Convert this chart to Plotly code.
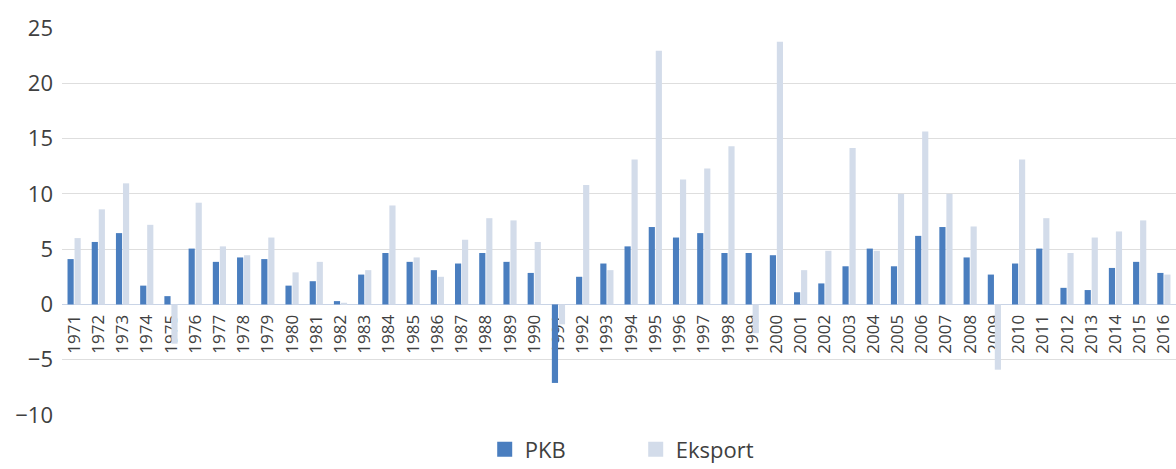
import plotly.graph_objects as go

years = [str(y) for y in range(1971, 2017)]

pkb = [4.1, 5.65, 6.45, 1.7, 0.75, 5.05, 3.85, 4.25, 4.1, 1.7,
       2.1, 0.3, 2.7, 4.65, 3.85, 3.1, 3.7, 4.65, 3.85, 2.85,
       -7.1, 2.5, 3.7, 5.25, 7.0, 6.05, 6.45, 4.65, 4.65, 4.45,
       1.1, 1.9, 3.45, 5.05, 3.45, 6.2, 7.0, 4.25, 2.7, 3.7,
       5.05, 1.5, 1.3, 3.3, 3.85, 2.85]

eksport = [6.0, 8.6, 10.95, 7.2, -3.55, 9.2, 5.25, 4.45, 6.05, 2.9,
           3.85, 0.15, 3.1, 8.95, 4.25, 2.5, 5.85, 7.8, 7.6, 5.65,
           -1.8, 10.8, 3.1, 13.1, 22.95, 11.3, 12.3, 14.3, -2.6, 23.75,
           3.1, 4.85, 14.15, 4.85, 10.0, 15.65, 10.0, 7.05, -5.9, 13.1,
           7.8, 4.65, 6.05, 6.6, 7.6, 2.7]

y_ticks = [-10, -5, 0, 5, 10, 15, 20, 25]
y_min, y_max = -10, 25

font_family = "Open Sans, Noto Sans, sans-serif"
text_color = "#404040"
color_pkb = "#4a7ebf"
color_eks = "#d3dcea"

margin_top, margin_bottom, fig_height = 28, 54, 469
plot_height = fig_height - margin_top - margin_bottom

fig = go.Figure()
fig.add_trace(go.Bar(
    x=years, y=pkb, name="PKB", showlegend=False,
    marker=dict(color=color_pkb, line=dict(width=0)),
))
fig.add_trace(go.Bar(
    x=years, y=eksport, name="Eksport", showlegend=False,
    marker=dict(color=color_eks, line=dict(width=0)),
))

# square legend swatches
for name, color in [("PKB", color_pkb), ("Eksport", color_eks)]:
    fig.add_trace(go.Scatter(
        x=[None], y=[None], mode="markers", name=name,
        marker=dict(symbol="square", size=15, color=color),
    ))

# category labels hang just below the zero line
x_axis_position = (0 - y_min) / (y_max - y_min) - 6 / plot_height

fig.update_layout(
    width=1176, height=fig_height,
    margin=dict(l=62, r=0, t=margin_top, b=margin_bottom, pad=0, autoexpand=False),
    paper_bgcolor="white", plot_bgcolor="white",
    barmode="group", bargap=0.42, bargroupgap=0.12,
    font=dict(family=font_family, color=text_color),
    showlegend=True,
    legend=dict(
        orientation="h", x=0.515, xanchor="center", y=-0.035, yanchor="top",
        font=dict(size=22, color=text_color), itemwidth=30,
        traceorder="normal", entrywidth=106,
    ),
    xaxis=dict(
        type="category", anchor="free",
        position=x_axis_position,
        tickangle=-90, showgrid=False, showline=False, ticks="",
        tickfont=dict(size=17, color=text_color),
        layer="below traces",
    ),
    yaxis=dict(
        range=[y_min, y_max], tickvals=y_ticks,
        showgrid=True, gridcolor="#dedede", gridwidth=1,
        zeroline=True, zerolinecolor="#c9d4e6", zerolinewidth=1,
        showline=False, ticks="",
        tickfont=dict(size=22, color=text_color),
        ticklabelstandoff=8,
    ),
)

fig.write_html("out.html")
